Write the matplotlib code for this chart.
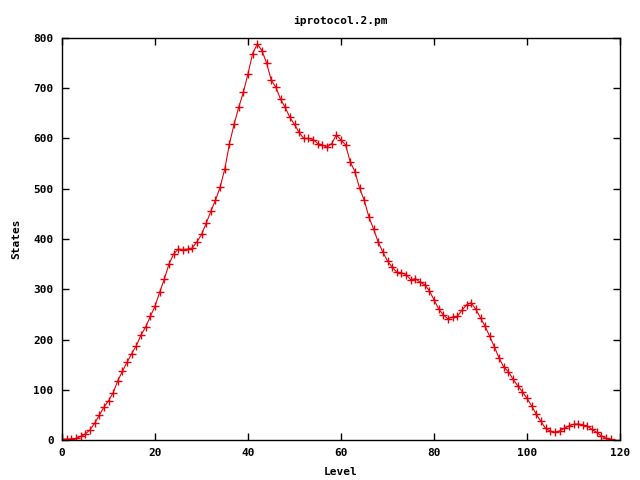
import numpy as np
import matplotlib
matplotlib.use("Agg")
import matplotlib.pyplot as plt

# niveis 0..118 e numero de estados
levels = list(range(0, 119))
states = [
    1, 2, 2, 3, 7, 12, 20, 33, 49, 65,
    78, 94, 118, 137, 155, 172, 188, 209, 225, 246,
    266, 294, 320, 350, 370, 380, 379, 380, 382, 394,
    409, 431, 455, 477, 503, 539, 589, 628, 662, 692,
    729, 769, 788, 775, 750, 716, 702, 678, 662, 642,
    628, 612, 600, 600, 598, 590, 587, 583, 590, 607,
    597, 587, 553, 534, 501, 477, 444, 420, 394, 374,
    356, 344, 334, 333, 329, 319, 321, 314, 309, 297,
    279, 261, 249, 241, 245, 246, 258, 269, 273, 260,
    243, 226, 206, 185, 163, 145, 136, 121, 108, 96,
    83, 68, 51, 37, 23, 18, 15, 18, 23, 28,
    31, 32, 30, 27, 21, 15, 8, 3, 1,
]
title = "iprotocol.2.pm"
xticks = [0, 20, 40, 60, 80, 100, 120]
yticks = [0, 100, 200, 300, 400, 500, 600, 700, 800]

plt.rcParams['font.family'] = ['DejaVu Sans Mono']
plt.rcParams['font.weight'] = 'bold'
plt.rcParams['font.size'] = 8

fig = plt.figure(figsize=(6.4, 4.8), dpi=100)
ax = fig.add_axes([62/640, 40/480, 558/640, 402/480])

ax.plot(levels, states, color="#e8000b", lw=0.8, marker="+", ms=5.5, mew=1.0)

ax.set_xlim(0, 120)
ax.set_ylim(0, 800)
ax.set_xticks(xticks)
ax.set_yticks(yticks)
ax.tick_params(direction="in", top=True, right=True, length=5, width=1, pad=6)
for s in ax.spines.values():
    s.set_linewidth(1)

ax.set_title(title, fontsize=8, fontweight="bold", pad=10)
ax.set_xlabel("Level", fontweight="bold", labelpad=6)
ax.set_ylabel("States", fontweight="bold", labelpad=9)

fig.savefig("out.png", dpi=100)
